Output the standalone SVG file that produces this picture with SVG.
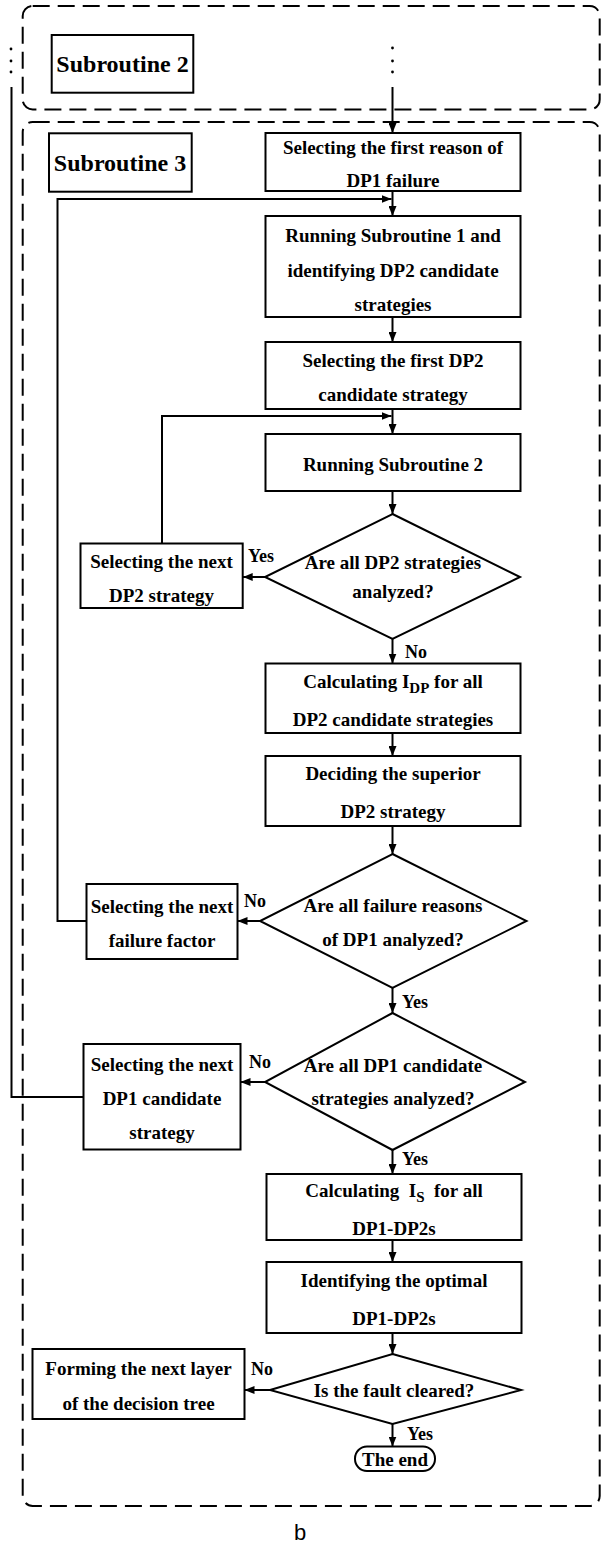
<svg xmlns="http://www.w3.org/2000/svg" width="602" height="1547" viewBox="0 0 602 1547">
<style>
.bg{fill:#fff}
.region{fill:none;stroke:#000;stroke-width:2;stroke-dasharray:17 8}
.box{fill:#fff;stroke:#000;stroke-width:2}
.t{font-family:"Liberation Serif","Times New Roman",serif;font-weight:bold;font-size:19px;fill:#000;text-anchor:middle}
.big{font-size:24px}
.lbl{font-family:"Liberation Serif","Times New Roman",serif;font-weight:bold;font-size:18px;fill:#000}
.ln{fill:none;stroke:#000;stroke-width:2}
.dot{fill:#000}
.cap{font-family:"Liberation Sans",Arial,sans-serif;font-size:22px;fill:#000;text-anchor:middle}
</style>
<defs>
<marker id="ah" markerUnits="userSpaceOnUse" markerWidth="10" markerHeight="8" refX="10" refY="4" orient="auto">
<path d="M0,0 L10,4 L0,8 Z" fill="#000"/>
</marker>
</defs>
<rect class="bg" x="0" y="0" width="602" height="1547"/>

<g id="region-sub2"><rect class="region" x="22.7" y="6" width="577" height="103.5" rx="10"/></g>
<g id="region-sub3"><rect class="region" x="22.7" y="122" width="577" height="1384" rx="10"/></g>

<g id="connectors">
<circle class="dot" cx="11" cy="49" r="1.4"/><circle class="dot" cx="11" cy="61" r="1.4"/><circle class="dot" cx="11" cy="72" r="1.4"/>
<circle class="dot" cx="392.5" cy="48" r="1.4"/><circle class="dot" cx="392.5" cy="61" r="1.4"/><circle class="dot" cx="392.5" cy="72" r="1.4"/>
<line class="ln" x1="392.5" y1="87" x2="392.5" y2="133" marker-end="url(#ah)"/>
<line class="ln" x1="392.5" y1="191" x2="392.5" y2="216" marker-end="url(#ah)"/>
<line class="ln" x1="392.5" y1="317" x2="392.5" y2="342" marker-end="url(#ah)"/>
<line class="ln" x1="392.5" y1="409" x2="392.5" y2="434" marker-end="url(#ah)"/>
<line class="ln" x1="392.5" y1="491" x2="392.5" y2="514" marker-end="url(#ah)"/>
<line class="ln" x1="392.5" y1="639" x2="392.5" y2="663.5" marker-end="url(#ah)"/>
<line class="ln" x1="392.5" y1="733" x2="392.5" y2="756" marker-end="url(#ah)"/>
<line class="ln" x1="392.5" y1="826" x2="392.5" y2="854" marker-end="url(#ah)"/>
<line class="ln" x1="392.5" y1="988" x2="392.5" y2="1013" marker-end="url(#ah)"/>
<line class="ln" x1="392.5" y1="1150" x2="392.5" y2="1174" marker-end="url(#ah)"/>
<line class="ln" x1="392.5" y1="1240" x2="392.5" y2="1262" marker-end="url(#ah)"/>
<line class="ln" x1="392.5" y1="1333" x2="392.5" y2="1354" marker-end="url(#ah)"/>
<line class="ln" x1="392.5" y1="1424" x2="392.5" y2="1446.5" marker-end="url(#ah)"/>
<line class="ln" x1="265" y1="577" x2="242.7" y2="577" marker-end="url(#ah)"/>
<line class="ln" x1="260" y1="921" x2="237.5" y2="921" marker-end="url(#ah)"/>
<line class="ln" x1="265" y1="1082" x2="240.5" y2="1082" marker-end="url(#ah)"/>
<line class="ln" x1="270" y1="1390" x2="244.5" y2="1390" marker-end="url(#ah)"/>
<polyline class="ln" points="86.5,921 57.5,921 57.5,199 391.5,199" marker-end="url(#ah)"/>
<polyline class="ln" points="162,543.5 162,416 391.5,416" marker-end="url(#ah)"/>
<polyline class="ln" points="11.5,87 11.5,1097 83.5,1097"/>
<text class="lbl" x="248" y="562">Yes</text>
<text class="lbl" x="405" y="658">No</text>
<text class="lbl" x="244" y="907">No</text>
<text class="lbl" x="402" y="1008">Yes</text>
<text class="lbl" x="249" y="1068">No</text>
<text class="lbl" x="402" y="1165">Yes</text>
<text class="lbl" x="251" y="1375">No</text>
<text class="lbl" x="407" y="1440">Yes</text>
</g>

<g id="sub2-label"><rect class="box" x="51.7" y="35" width="141.6" height="57.7"/><text class="t big" x="122.5" y="72">Subroutine 2</text></g>
<g id="sub3-label"><rect class="box" x="49" y="133.3" width="142.7" height="58.4"/><text class="t big" x="120" y="171">Subroutine 3</text></g>

<g id="n-first-reason"><rect class="box" x="265.5" y="133" width="255" height="58"/>
<text class="t" x="393" y="154">Selecting the first reason of</text><text class="t" x="393" y="187">DP1 failure</text></g>

<g id="n-run-sub1"><rect class="box" x="265.5" y="216" width="255" height="101"/>
<text class="t" x="393" y="242">Running Subroutine 1 and</text><text class="t" x="393" y="277">identifying DP2 candidate</text><text class="t" x="393" y="311">strategies</text></g>

<g id="n-first-dp2"><rect class="box" x="265.5" y="342" width="255" height="67"/>
<text class="t" x="393" y="367">Selecting the first DP2</text><text class="t" x="393" y="401">candidate strategy</text></g>

<g id="n-run-sub2"><rect class="box" x="265.5" y="434" width="255" height="57"/>
<text class="t" x="393" y="471">Running Subroutine 2</text></g>

<g id="d-dp2-all"><polygon class="box" points="392.5,514 520,577 392.5,639 265,577"/>
<text class="t" x="393" y="569">Are all DP2 strategies</text><text class="t" x="393" y="598">analyzed?</text></g>

<g id="n-next-dp2"><rect class="box" x="80.5" y="543.5" width="162.2" height="64.5"/>
<text class="t" x="161.5" y="568">Selecting the next</text><text class="t" x="161.5" y="602">DP2 strategy</text></g>

<g id="n-calc-idp"><rect class="box" x="265.5" y="663.5" width="255" height="69.5"/>
<text class="t" x="393" y="688">Calculating I<tspan font-size="15" dy="5">DP</tspan><tspan dy="-5"> for all</tspan></text><text class="t" x="393" y="726">DP2 candidate strategies</text></g>

<g id="n-superior"><rect class="box" x="265.5" y="756" width="255" height="70"/>
<text class="t" x="393" y="780">Deciding the superior</text><text class="t" x="393" y="818">DP2 strategy</text></g>

<g id="d-failure-all"><polygon class="box" points="392.5,854 526.5,921 392.5,988 260,921"/>
<text class="t" x="393" y="912">Are all failure reasons</text><text class="t" x="393" y="946">of DP1 analyzed?</text></g>

<g id="n-next-failure"><rect class="box" x="86.5" y="884" width="151" height="75"/>
<text class="t" x="162" y="913">Selecting the next</text><text class="t" x="162" y="947">failure factor</text></g>

<g id="d-dp1-all"><polygon class="box" points="392.5,1013 525,1082 392.5,1150 265,1082"/>
<text class="t" x="393" y="1072">Are all DP1 candidate</text><text class="t" x="393" y="1105">strategies analyzed?</text></g>

<g id="n-next-dp1"><rect class="box" x="83.5" y="1044" width="157" height="105.5"/>
<text class="t" x="162" y="1071">Selecting the next</text><text class="t" x="162" y="1105">DP1 candidate</text><text class="t" x="162" y="1139">strategy</text></g>

<g id="n-calc-is"><rect class="box" x="266.5" y="1174" width="255" height="66"/>
<text class="t" x="394" y="1197" xml:space="preserve">Calculating  I<tspan font-size="15" dy="5">S</tspan><tspan dy="-5">  for all</tspan></text><text class="t" x="394" y="1235">DP1-DP2s</text></g>

<g id="n-optimal"><rect class="box" x="266.5" y="1262" width="255" height="71"/>
<text class="t" x="394" y="1287">Identifying the optimal</text><text class="t" x="394" y="1325">DP1-DP2s</text></g>

<g id="d-cleared"><polygon class="box" points="392.5,1354 521,1390 392.5,1424 270,1390"/>
<text class="t" x="394" y="1397">Is the fault cleared?</text></g>

<g id="n-next-layer"><rect class="box" x="32.5" y="1349" width="212" height="70"/>
<text class="t" x="138.5" y="1375">Forming the next layer</text><text class="t" x="138.5" y="1410">of the decision tree</text></g>

<g id="n-end"><rect class="box" x="355" y="1446.5" width="80" height="24.5" rx="12"/>
<text class="t" x="395" y="1466">The end</text></g>

<text class="cap" x="300" y="1540">b</text>
</svg>
